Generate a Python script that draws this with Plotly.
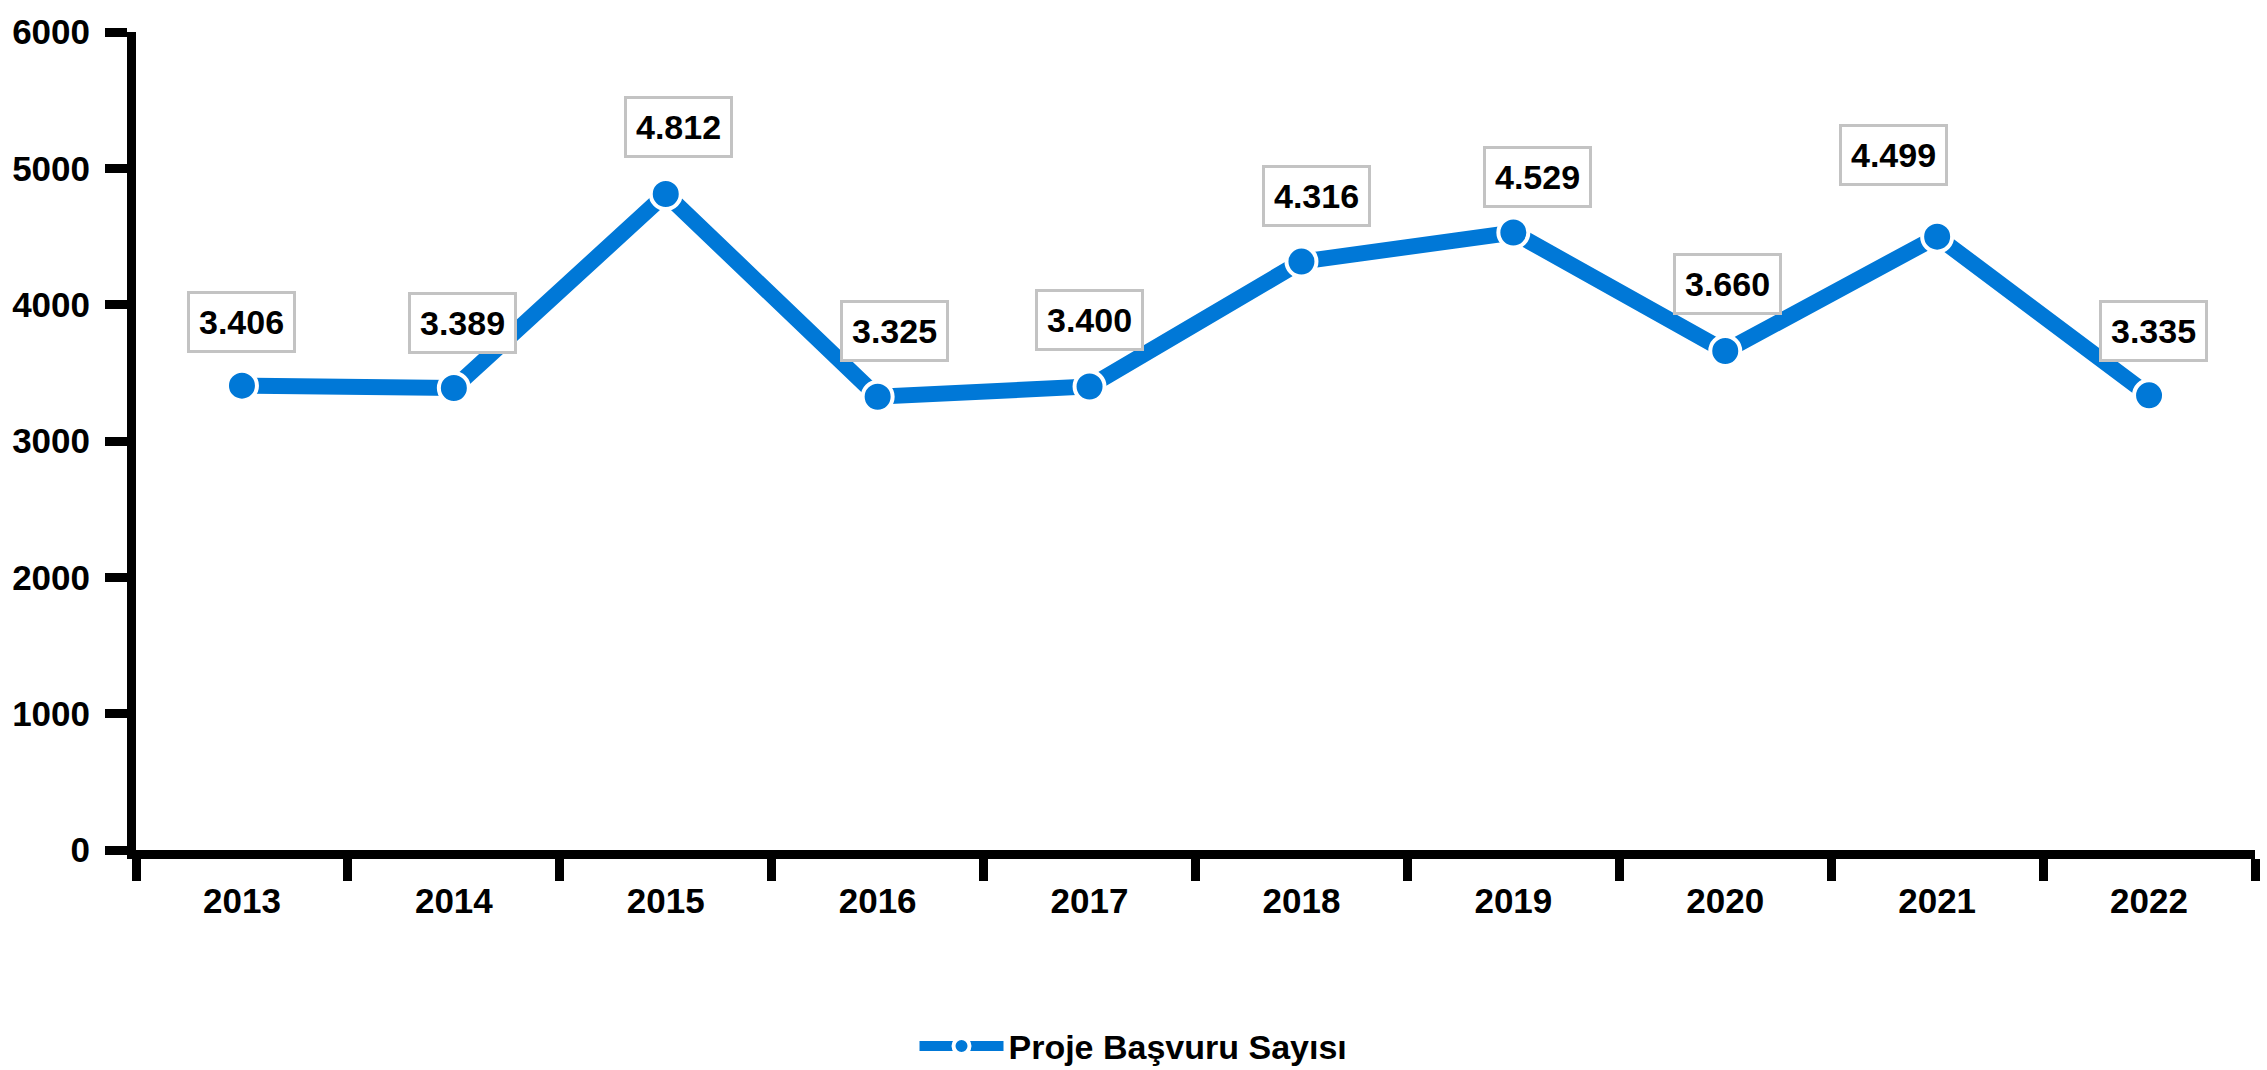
import plotly.graph_objects as go

years = ["2013", "2014", "2015", "2016", "2017", "2018", "2019", "2020", "2021", "2022"]
applications = [3406, 3389, 4812, 3325, 3400, 4316, 4529, 3660, 4499, 3335]
series_name = "Proje Başvuru Sayısı"
y_ticks = [0, 1000, 2000, 3000, 4000, 5000, 6000]

# label box offsets in pixels (style only)
label_dx = [0, 9, 13, 17, 0, 15, 24, 2, -44, 4]
label_up = [64, 65, 67, 66, 66, 66, 56, 67, 82, 64]

FONT = "Liberation Sans, Arial, sans-serif"
BLUE = "rgb(0,120,215)"

def tr_fmt(v):
    return f"{v:,}".replace(",", ".")

fig = go.Figure()
fig.add_trace(go.Scatter(
    x=years, y=applications, name=series_name, mode="lines+markers",
    line=dict(color=BLUE, width=16),
    marker=dict(color=BLUE, size=30, line=dict(color="white", width=4)),
    cliponaxis=False,
))

for i, v in enumerate(applications):
    fig.add_annotation(
        x=i, y=v, xref="x", yref="y",
        text=f"<b>{tr_fmt(v)}</b>", showarrow=False,
        xshift=label_dx[i], yshift=label_up[i],
        xanchor="center", yanchor="middle",
        font=dict(family=FONT, size=34, color="black"),
        bgcolor="white", bordercolor="rgb(195,195,195)", borderwidth=3, borderpad=9,
    )

fig.update_layout(
    width=2267, height=1070,
    margin=dict(l=128, r=12, t=22, b=220),
    paper_bgcolor="white", plot_bgcolor="white",
    font=dict(family=FONT, size=34, color="black"),
    showlegend=True,
    legend=dict(
        orientation="h", xref="container", yref="container",
        x=0.5, xanchor="center", y=0.022, yanchor="middle",
        font=dict(family=FONT, size=34, color="black", weight="bold"),
        itemwidth=84,
    ),
    xaxis=dict(
        type="category", range=[-0.5, 9.5],
        showline=True, linecolor="black", linewidth=9,
        ticks="outside", tickson="boundaries", ticklen=22, tickwidth=9, tickcolor="black",
        showgrid=False, zeroline=False,
        tickfont=dict(family=FONT, size=35, color="black", weight="bold"),
        ticklabelstandoff=12,
    ),
    yaxis=dict(
        range=[0, 6000], tickvals=y_ticks,
        showline=True, linecolor="black", linewidth=9,
        ticks="outside", ticklen=22, tickwidth=9, tickcolor="black",
        showgrid=False, zeroline=False,
        tickfont=dict(family=FONT, size=35, color="black", weight="bold"),
        ticklabelstandoff=8,
    ),
)

fig.write_html("out.html")
